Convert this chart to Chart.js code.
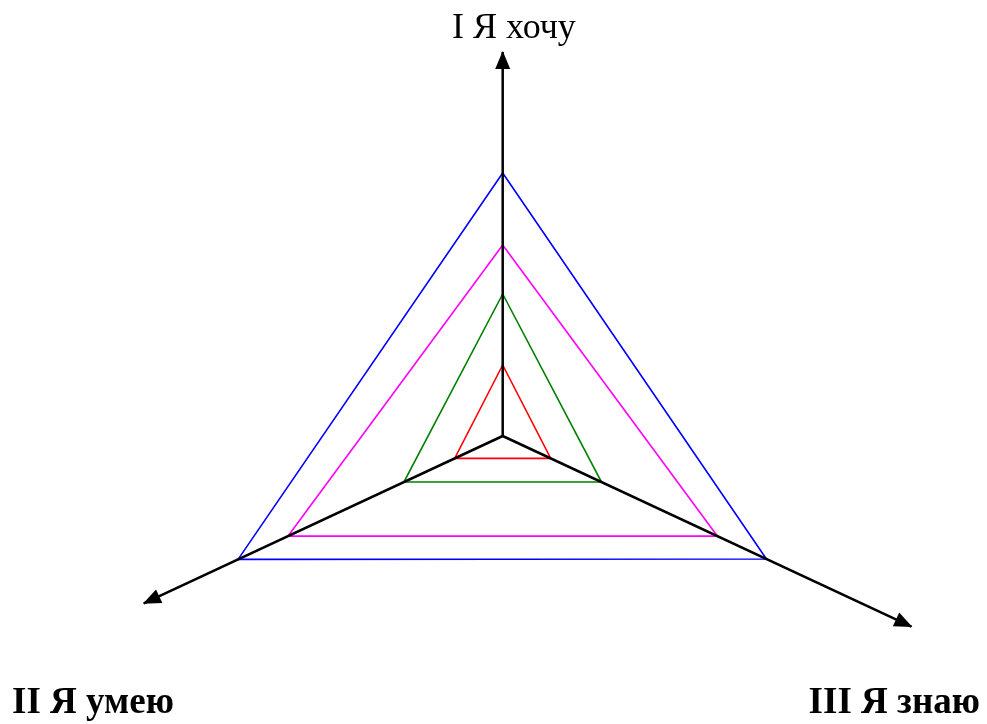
<!DOCTYPE html>
<html>
<head>
<meta charset="utf-8">
<title>Я хочу / Я умею / Я знаю</title>
<script src="https://cdn.jsdelivr.net/npm/chart.js@4"></script>
<style>
  html, body { margin: 0; padding: 0; background: #fff; }
  canvas { display: block; }
</style>
</head>
<body>
<canvas id="c" width="987" height="724"></canvas>
<script>
  // ── Данные ──────────────────────────────────────────────
  // Оси: подписи и направления (градусы, 0 = вправо, против часовой)
  var AXIS_LABELS = ['I Я хочу', 'II Я умею', 'III Я знаю'];
  var AXIS_ANGLES = [90, 205, -25];
  var AXIS_LEN    = [38.4, 39.6, 45.1];

  // Значения по осям I, II, III
  var RED     = [7.1, 5.3, 5.3];
  var GREEN   = [14.2, 10.9, 10.9];
  var MAGENTA = [19.1, 23.7, 23.7];
  var BLUE    = [26.3, 29.2, 29.1];

  // ── Перевод значения на оси в точку x/y ─────────────────
  function onAxis(i, v) {
    var a = AXIS_ANGLES[i] * Math.PI / 180;
    return { x: v * Math.cos(a), y: v * Math.sin(a) };
  }
  function triangle(vals) {
    var pts = vals.map(function (v, i) { return onAxis(i, v); });
    pts.push(pts[0]);  // замкнуть контур
    return pts;
  }
  function axisLine(i) {
    return { data: [{ x: 0, y: 0 }, onAxis(i, AXIS_LEN[i])], borderColor: '#000', borderWidth: 2.5, arrow: true };
  }
  function triSet(vals, color) {
    return { data: triangle(vals), borderColor: color, borderWidth: 1.6 };
  }

  // Стрелки на концах осей
  var arrowPlugin = {
    id: 'arrows',
    afterDatasetsDraw: function (chart) {
      var ctx = chart.ctx;
      chart.data.datasets.forEach(function (ds, di) {
        if (!ds.arrow) return;
        var pts = chart.getDatasetMeta(di).data;
        var p0 = pts[0], p1 = pts[pts.length - 1];
        var ang = Math.atan2(p1.y - p0.y, p1.x - p0.x);
        var len = 17, hw = 7.5;
        ctx.save();
        ctx.translate(p1.x, p1.y);
        ctx.rotate(ang);
        ctx.beginPath();
        ctx.moveTo(1, 0);
        ctx.lineTo(-len, -hw);
        ctx.lineTo(-len, hw);
        ctx.closePath();
        ctx.fillStyle = '#000';
        ctx.fill();
        ctx.restore();
      });
    }
  };

  // Подписи осей
  var labelPlugin = {
    id: 'axisLabels',
    afterDraw: function (chart) {
      var ctx = chart.ctx;
      var serif = '"Liberation Serif", "Times New Roman", serif';
      ctx.save();
      ctx.fillStyle = '#000';
      ctx.textBaseline = 'alphabetic';
      ctx.font = '36px ' + serif;
      ctx.textAlign = 'left';
      ctx.fillText(AXIS_LABELS[0], 452, 38);
      ctx.font = 'bold 37px ' + serif;
      ctx.fillText(AXIS_LABELS[1], 12, 713);
      ctx.textAlign = 'right';
      ctx.fillText(AXIS_LABELS[2], 980, 713);
      ctx.restore();
    }
  };

  new Chart(document.getElementById('c'), {
    type: 'scatter',
    data: {
      datasets: [
        axisLine(0), axisLine(1), axisLine(2),
        triSet(RED, '#ff0000'),
        triSet(GREEN, '#008000'),
        triSet(MAGENTA, '#ff00ff'),
        triSet(BLUE, '#0000ff')
      ]
    },
    options: {
      responsive: false,
      animation: false,
      showLine: true,
      clip: false,
      layout: { padding: 0 },
      elements: {
        point: { radius: 0, hoverRadius: 0 },
        line: { tension: 0, fill: false, borderCapStyle: 'butt', borderJoinStyle: 'miter' }
      },
      plugins: { legend: { display: false }, tooltip: { enabled: false }, title: { display: false } },
      scales: {
        x: { type: 'linear', min: -50.27, max: 48.43, display: false },
        y: { type: 'linear', min: -28.8, max: 43.6, display: false }
      }
    },
    plugins: [arrowPlugin, labelPlugin]
  });
</script>
</body>
</html>
